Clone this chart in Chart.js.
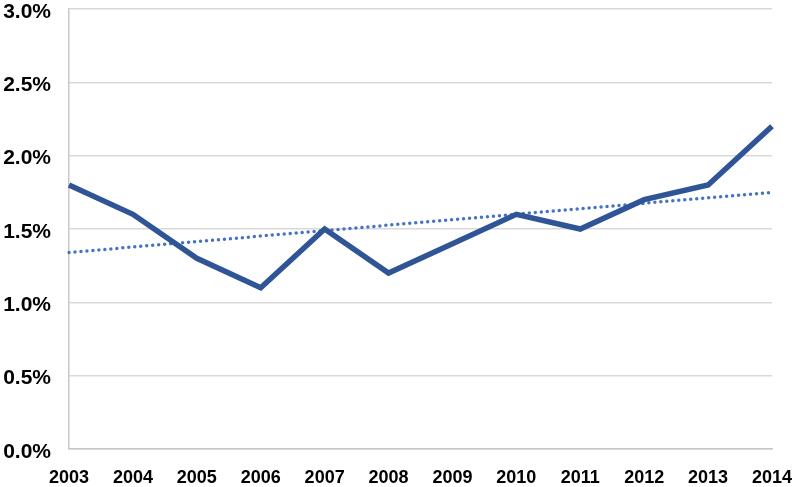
<!DOCTYPE html>
<html>
<head>
<meta charset="utf-8">
<script src="https://cdn.jsdelivr.net/npm/chart.js@4"></script>
<style>
  html, body { margin: 0; padding: 0; background: #fff; }
  #wrap { width: 798px; height: 487px; }
</style>
</head>
<body>
<div id="wrap"><canvas id="chart" width="798" height="487"></canvas></div>
<script>
// Data
const years = ['2003', '2004', '2005', '2006', '2007', '2008', '2009', '2010', '2011', '2012', '2013', '2014'];
const rates = [1.8, 1.6, 1.3, 1.1, 1.5, 1.2, 1.4, 1.6, 1.5, 1.7, 1.8, 2.2];
// Trend line: only its two ends, drawn straight across
const trend = [1.34, null, null, null, null, null, null, null, null, null, null, 1.75];
const yTicks = [0, 0.5, 1.0, 1.5, 2.0, 2.5, 3.0];

const ctx = document.getElementById('chart').getContext('2d');
new Chart(ctx, {
  type: 'line',
  data: {
    labels: years,
    datasets: [{
      data: rates,
      borderColor: '#2f5597',
      borderWidth: 5.5,
      pointRadius: 0,
      tension: 0,
      fill: false,
      order: 1
    }, {
      data: trend,
      borderColor: '#4472c4',
      borderWidth: 3.5,
      borderDash: [0, 6],
      borderCapStyle: 'round',
      pointRadius: 0,
      spanGaps: true,
      fill: false,
      order: 2
    }]
  },
  options: {
    responsive: false,
    animation: false,
    layout: { padding: { top: 9, right: 26, left: 0, bottom: 0 } },
    plugins: { legend: { display: false }, tooltip: { enabled: false } },
    scales: {
      x: {
        offset: false,
        grid: { display: false, drawTicks: false },
        border: { color: '#c8c8c8', width: 1.5 },
        ticks: {
          color: '#000',
          padding: 18,
          maxRotation: 0,
          autoSkip: false,
          font: { family: 'Liberation Sans', size: 18, weight: 'bold' }
        },
        afterFit: function(scale) {
          scale.height = 38;
          scale.paddingLeft = 0;
          scale.paddingRight = 0;
        }
      },
      y: {
        min: 0,
        max: 3,
        afterBuildTicks: function(scale) {
          scale.ticks = yTicks.map(function(v) { return { value: v }; });
        },
        grid: { color: '#d9d9d9', lineWidth: 1.5, drawTicks: false },
        border: { color: '#c8c8c8', width: 1.5 },
        ticks: {
          color: '#000',
          padding: 18,
          labelOffset: 3,
          font: { family: 'Liberation Sans', size: 21, weight: 'bold' },
          callback: function(v) { return v.toFixed(1) + '%'; }
        },
        afterFit: function(scale) {
          scale.width = 69;
          scale.paddingTop = 0;
          scale.paddingBottom = 0;
        }
      }
    }
  }
});
</script>
</body>
</html>
